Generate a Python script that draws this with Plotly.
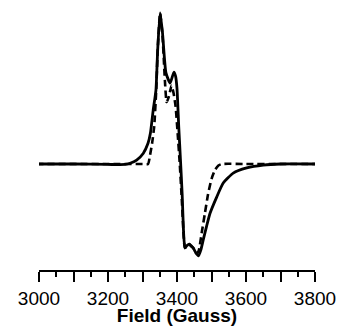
import plotly.graph_objects as go

# Solid spectrum (field in Gauss, normalized intensity)
solid_field = [2993, 3000, 3100, 3200, 3250, 3264, 3283, 3302, 3316, 3323, 3331, 3339, 3344, 3351,
               3358, 3368, 3380, 3391, 3396, 3400, 3405, 3410, 3415, 3419, 3423, 3429, 3435, 3441,
               3447, 3455, 3462, 3469, 3476, 3486, 3496, 3515, 3534, 3563, 3602, 3650, 3700, 3800]
solid_int = [0.0, 0.0, 0.0, -0.003, -0.003, 0.005, 0.026, 0.07, 0.137, 0.205, 0.357, 0.49, 0.755, 1.0,
             0.868, 0.603, 0.536, 0.609, 0.58, 0.5, 0.25, 0.03, -0.2, -0.45, -0.556, -0.54, -0.53, -0.545,
             -0.556, -0.59, -0.609, -0.57, -0.503, -0.41, -0.325, -0.219, -0.126, -0.06, -0.026, -0.007, 0.0, 0.0]

# Dashed (simulated) spectrum
dash_field = [2993, 3000, 3100, 3200, 3300, 3316, 3322, 3328, 3334, 3340, 3344, 3351, 3358, 3365,
              3370, 3377, 3384, 3390, 3396, 3402, 3408, 3414, 3419, 3423, 3435, 3447, 3455, 3462,
              3472, 3481, 3490, 3500, 3510, 3520, 3530, 3600, 3700, 3800]
dash_int = [0.0, 0.0, 0.0, 0.0, 0.0, 0.0, 0.06, 0.14, 0.25, 0.5, 0.755, 1.0, 0.85, 0.55,
            0.41, 0.45, 0.52, 0.47, 0.38, 0.2, 0.0, -0.24, -0.46, -0.556, -0.53, -0.556, -0.59, -0.58,
            -0.45, -0.325, -0.2, -0.1, -0.04, -0.01, 0.0, 0.0, 0.0, 0.0]

tick_vals = [3000, 3100, 3200, 3300, 3400, 3500, 3600, 3700, 3800]
tick_text = ["3000", "", "3200", "", "3400", "", "3600", "", "3800"]

fig = go.Figure()
fig.add_trace(go.Scatter(x=solid_field, y=solid_int, mode="lines",
                         line=dict(color="black", width=2.8, shape="spline", smoothing=0.5),
                         showlegend=False))
fig.add_trace(go.Scatter(x=dash_field, y=dash_int, mode="lines",
                         line=dict(color="black", width=2.6, dash="7px,4px", shape="spline", smoothing=0.5),
                         showlegend=False))

fig.update_layout(
    width=337, height=326,
    margin=dict(l=39, r=22, t=5, b=56, autoexpand=False),
    paper_bgcolor="white", plot_bgcolor="white",
    font=dict(family="Liberation Sans, Arial, Helvetica, sans-serif", color="black", size=19),
    xaxis=dict(
        range=[3000, 3800], automargin=False,
        tickmode="array", tickvals=tick_vals, ticktext=tick_text,
        ticks="outside", ticklen=10, tickwidth=1.5, tickcolor="black",
        showline=True, linecolor="black", linewidth=1.5,
        showgrid=False, zeroline=False,
        tickfont=dict(size=19),
        minor=dict(dtick=50, tick0=3000, ticks="outside", ticklen=5, tickwidth=1.5,
                   tickcolor="black", showgrid=False),
        title=dict(text="<b>Field (Gauss)</b>", font=dict(size=19), standoff=3),
    ),
    yaxis=dict(range=[-0.702, 1.053], visible=False, showgrid=False, zeroline=False),
)

# remove the browser's default 8px body margin so the figure fills the window exactly
fig.write_html("out.html", config={"displayModeBar": False},
               post_script="document.body.style.margin='0';document.body.style.overflow='hidden';")
